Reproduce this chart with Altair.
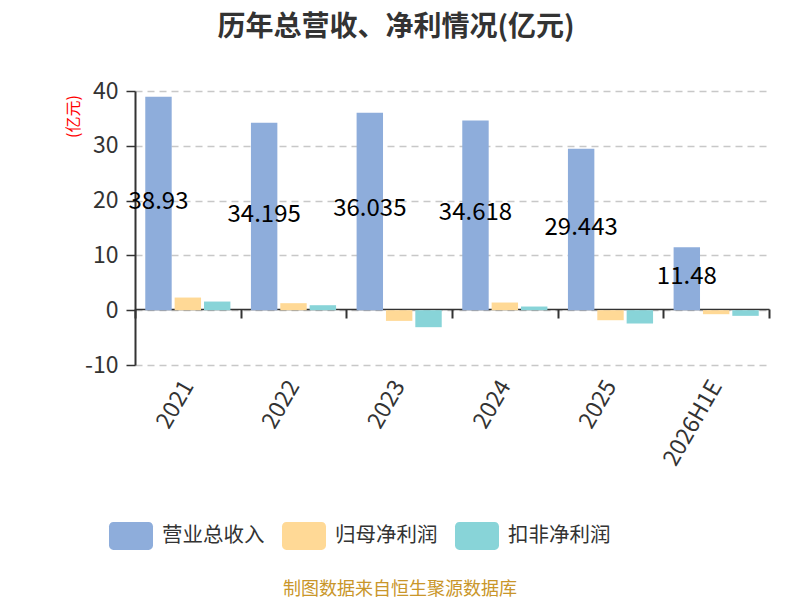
import altair as alt
import pandas as pd

years = ["2021", "2022", "2023", "2024", "2025", "2026H1E"]
series = ["营业总收入", "归母净利润", "扣非净利润"]
revenue = [38.93, 34.195, 36.035, 34.618, 29.443, 11.48]
revenue_labels = ["38.93", "34.195", "36.035", "34.618", "29.443", "11.48"]
net_profit = [2.31, 1.28, -1.95, 1.40, -1.83, -0.73]
deducted_profit = [1.58, 0.91, -3.10, 0.67, -2.43, -1.03]
colors = ["#8EADDB", "#FFD996", "#88D4D8"]

rows = []
for i, y in enumerate(years):
    rows.append({"year": y, "series": series[0], "value": revenue[i], "label": revenue_labels[i]})
    rows.append({"year": y, "series": series[1], "value": net_profit[i], "label": ""})
    rows.append({"year": y, "series": series[2], "value": deducted_profit[i], "label": ""})
df = pd.DataFrame(rows)

FONT = "Noto Sans CJK SC"
rect_path = ("M-0.8,-0.636 L0.8,-0.636 A0.2,0.2 0 0 1 1,-0.436 L1,0.436 "
             "A0.2,0.2 0 0 1 0.8,0.636 L-0.8,0.636 A0.2,0.2 0 0 1 -1,0.436 "
             "L-1,-0.436 A0.2,0.2 0 0 1 -0.8,-0.636 Z")

x_enc = alt.X(
    "year:N", sort=years, title=None,
    scale=alt.Scale(paddingInner=0, paddingOuter=0),
    axis=alt.Axis(
        offset=-56, labelAngle=-60, labelAlign="right", labelBaseline="middle",
        labelPadding=64, labelFontSize=23, labelColor="#333333", labelFont=FONT,
        domainColor="#333333", domainWidth=1.5, tickColor="#333333", tickWidth=2,
        tickSize=9, tickBand="extent", grid=False,
    ),
)
xoff_enc = alt.XOffset("series:N", sort=series,
                       scale=alt.Scale(paddingInner=0.1, paddingOuter=0.35))
y_scale = alt.Scale(domain=[-10, 40], nice=False, zero=False)

bars = alt.Chart(df).mark_bar().encode(
    x=x_enc,
    xOffset=xoff_enc,
    y=alt.Y(
        "value:Q", scale=y_scale, title="(亿元)",
        axis=alt.Axis(
            values=[-10, 0, 10, 20, 30, 40], labelExpr="datum.value + ''",
            labelFontSize=23, labelColor="#333333",
            labelFont=FONT, labelPadding=8, tickSize=9, tickColor="#333333", tickWidth=1.5,
            domainColor="#333333", domainWidth=2,
            gridColor="#c8c8c8", gridDash=[7, 5], gridWidth=1.5,
            titleColor="red", titleFont=FONT, titleFontSize=16, titleFontWeight="normal",
            titleAngle=-90, titleX=-62, titleY=25, titleAlign="center", titleBaseline="middle",
        ),
    ),
    color=alt.Color(
        "series:N", sort=series,
        scale=alt.Scale(domain=series, range=colors),
        legend=alt.Legend(
            title=None, orient="none", direction="horizontal",
            legendX=-26, legendY=423,
            symbolType=rect_path, symbolSize=1936, symbolStrokeWidth=0,
            symbolOpacity=1,
            labelFontSize=20.5, labelColor="#333333", labelFont=FONT,
            labelOffset=9, columnPadding=17,
        ),
    ),
)

labels = alt.Chart(df).transform_filter(
    alt.datum.series == series[0]
).transform_calculate(
    mid="datum.value / 2"
).mark_text(fontSize=24, color="#000000", font=FONT, baseline="middle", align="center", dy=-2).encode(
    x=alt.X("year:N", sort=years),
    xOffset=alt.XOffset("series:N", sort=series),
    y=alt.Y("mid:Q"),
    text="label:N",
)

source = alt.Chart(pd.DataFrame({"t": ["制图数据来自恒生聚源数据库"]})).mark_text(
    fontSize=18, color="#C9962A", font=FONT, align="center", baseline="middle"
).encode(
    x=alt.value(265), y=alt.value(499), text="t:N"
)

chart = alt.layer(bars, labels, source).properties(
    width=634, height=274,
    padding={"left": 127, "top": 83, "right": 23, "bottom": 235},
    autosize=alt.AutoSizeParams(type="none"),
    title=alt.TitleParams(
        "历年总营收、净利情况(亿元)", font=FONT, fontSize=28, fontWeight="bold",
        color="#333333", anchor="middle", dx=-56, offset=38,
    ),
).configure_view(stroke=None)

chart.save("out.html", embed_options={"renderer": "svg", "actions": False})
